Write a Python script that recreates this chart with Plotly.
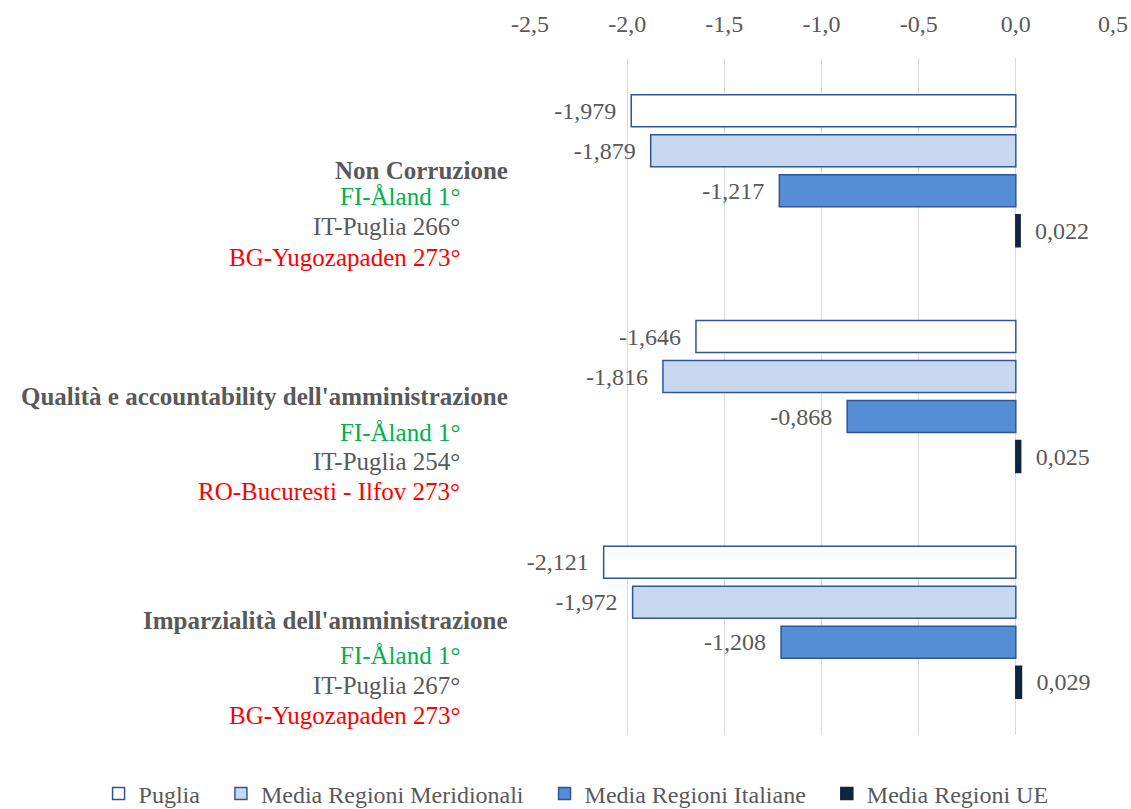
import plotly.graph_objects as go

categories = ["Non Corruzione",
              "Qualità e accountability dell'amministrazione",
              "Imparzialità dell'amministrazione"]
series_names = ["Puglia", "Media Regioni Meridionali", "Media Regioni Italiane", "Media Regioni UE"]
puglia = [-1.979, -1.646, -2.121]
meridionali = [-1.879, -1.816, -1.972]
italiane = [-1.217, -0.868, -1.208]
ue = [0.022, 0.025, 0.029]
ranks_best = ["FI-Åland 1°", "FI-Åland 1°", "FI-Åland 1°"]
ranks_puglia = ["IT-Puglia 266°", "IT-Puglia 254°", "IT-Puglia 267°"]
ranks_worst = ["BG-Yugozapaden 273°", "RO-Bucuresti - Ilfov 273°", "BG-Yugozapaden 273°"]
tick_vals = [-2.5, -2.0, -1.5, -1.0, -0.5, 0.0, 0.5]
tick_text = ["-2,5", "-2,0", "-1,5", "-1,0", "-0,5", "0,0", "0,5"]

FONT = "Liberation Serif, Times New Roman, serif"
FS = 24
FS_LAB = 25
GREY = "#595959"
fills = ["#FFFFFF", "#C6D9F0", "#558ED5", "#10253F"]
lines = ["#2F5597", "#2F5597", "#2F5597", "#10253F"]

def fmt(v):
    s = f"{v:.3f}".replace(".", ",")
    return s + "\u2002" if v < 0 else "\u2002" + s

fig = go.Figure()
for k, (name, vals, fc, lc) in enumerate(zip(series_names, [puglia, meridionali, italiane, ue], fills, lines)):
    legend_name = name + ("\u2002\u2006" if k < len(series_names) - 1 else "")
    fig.add_trace(go.Bar(
        y=list(range(len(categories))), x=vals, name=legend_name, orientation="h",
        marker=dict(color=fc, line=dict(color=lc, width=1.5)),
        text=[fmt(v) for v in vals], textposition="outside", cliponaxis=False,
        textfont=dict(family=FONT, size=FS, color=GREY),
    ))

annotations = []
offs = [(0, 26, 56, 87), (0, 36, 65, 95), (-2, 33, 63, 93)]
for i, cat in enumerate(categories):
    o = offs[i]
    annotations.append(dict(x=0, xref="paper", xanchor="right", xshift=-20,
                            y=i, yref="y", yshift=-o[0], yanchor="middle",
                            text=f"<b>{cat}</b>", showarrow=False,
                            font=dict(family=FONT, size=FS_LAB, color=GREY)))
    for k, (txt, col) in enumerate([(ranks_best[i], "#00B050"),
                                    (ranks_puglia[i], GREY),
                                    (ranks_worst[i], "#FF0000")]):
        annotations.append(dict(x=0, xref="paper", xanchor="right", xshift=-68,
                                y=i, yref="y", yshift=-o[k + 1], yanchor="middle",
                                text=txt, showarrow=False,
                                font=dict(family=FONT, size=FS_LAB, color=col)))

fig.update_layout(
    width=1131, height=809, autosize=False,
    margin=dict(l=530, r=18, t=58, b=74, autoexpand=False),
    paper_bgcolor="white", plot_bgcolor="white",
    barmode="group", bargap=0.291, bargroupgap=0.2,
    separators=",.",
    font=dict(family=FONT, size=FS, color=GREY),
    xaxis=dict(side="top", range=[-2.5, 0.5], tickvals=tick_vals, ticktext=tick_text,
               showgrid=True, gridcolor="#D9D9D9", gridwidth=1.3, zeroline=False,
               showline=False, ticks="", ticklabelstandoff=20,
               tickfont=dict(family=FONT, size=FS, color=GREY)),
    yaxis=dict(range=[2.5, -0.5], showticklabels=False, showgrid=False,
               zeroline=False, showline=False, ticks=""),
    legend=dict(orientation="h", x=-0.74, xanchor="left", y=-0.087, yanchor="middle",
                font=dict(family=FONT, size=FS, color=GREY), itemwidth=30,
                traceorder="normal"),
    annotations=annotations,
)

fig.write_html("out.html", config={"displayModeBar": False},
               post_script="document.body.style.margin='0px';document.body.style.overflow='hidden';")
